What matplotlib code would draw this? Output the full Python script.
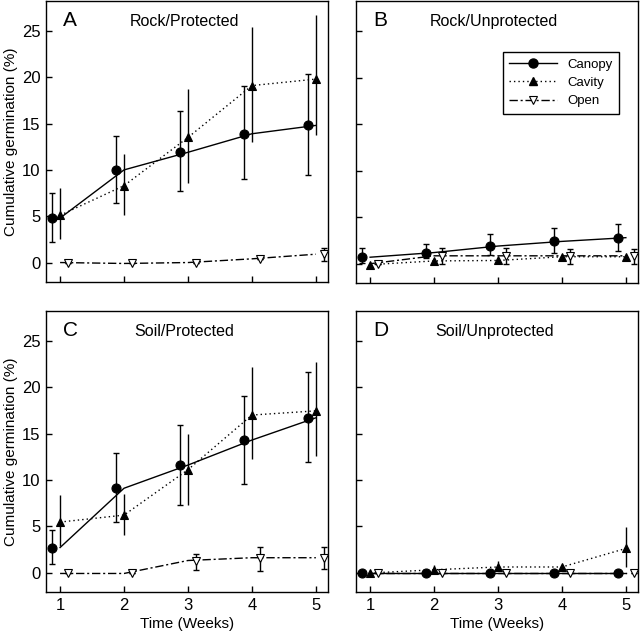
import numpy as np
import matplotlib
matplotlib.use("Agg")
import matplotlib.pyplot as plt

plt.rcParams['font.family'] = ['Liberation Sans', 'DejaVu Sans']

weeks = np.array([1, 2, 3, 4, 5])

# panel A: Rock/Protected
canopy_A = [4.8, 10.0, 11.9, 13.9, 14.8]
canopy_A_lo = [2.2, 6.4, 7.7, 9.0, 9.4]
canopy_A_hi = [7.5, 13.7, 16.4, 19.1, 20.3]
cavity_A = [5.1, 8.3, 13.5, 19.1, 19.8]
cavity_A_lo = [2.5, 5.1, 8.6, 13.0, 13.8]
cavity_A_hi = [8.0, 11.7, 18.7, 25.4, 26.7]
open_A = [0.0, -0.1, 0.0, 0.4, 0.9]
open_A_lo = [0.0, -0.1, 0.0, 0.4, 0.2]
open_A_hi = [0.0, -0.1, 0.0, 0.4, 1.6]

# panel B: Rock/Unprotected
canopy_B = [0.7, 1.2, 1.9, 2.4, 2.8]
canopy_B_lo = [0.1, 0.6, 0.9, 1.1, 1.4]
canopy_B_hi = [1.65, 2.1, 3.15, 3.8, 4.25]
cavity_B = [-0.1, 0.3, 0.35, 0.75, 0.75]
cavity_B_lo = [-0.1, 0.3, 0.35, 0.75, 0.75]
cavity_B_hi = [-0.1, 0.3, 0.35, 0.75, 0.75]
open_B = [0.0, 0.85, 0.85, 0.85, 0.85]
open_B_lo = [0.0, 0.0, 0.0, 0.0, 0.0]
open_B_hi = [0.0, 1.65, 1.65, 1.6, 1.6]

# panel C: Soil/Protected
canopy_C = [2.7, 9.1, 11.6, 14.3, 16.7]
canopy_C_lo = [0.95, 5.45, 7.3, 9.6, 11.9]
canopy_C_hi = [4.6, 12.95, 15.9, 19.05, 21.65]
cavity_C = [5.45, 6.2, 11.1, 17.0, 17.45]
cavity_C_lo = [2.9, 4.1, 7.3, 12.3, 12.6]
cavity_C_hi = [8.35, 8.5, 15.0, 22.2, 22.7]
open_C = [-0.1, -0.1, 1.3, 1.6, 1.6]
open_C_lo = [-0.1, -0.1, 0.25, 0.2, 0.4]
open_C_hi = [-0.1, -0.1, 2.0, 2.8, 2.8]

# panel D: Soil/Unprotected
canopy_D = [0.0, 0.0, 0.0, 0.0, 0.0]
canopy_D_lo = [0.0, 0.0, 0.0, 0.0, 0.0]
canopy_D_hi = [0.0, 0.0, 0.0, 0.0, 0.0]
cavity_D = [-0.05, 0.3, 0.6, 0.6, 2.6]
cavity_D_lo = [-0.05, 0.3, 0.6, 0.6, 0.55]
cavity_D_hi = [-0.05, 0.8, 1.2, 0.6, 4.9]
open_D = [0.0, 0.0, 0.0, 0.0, 0.0]
open_D_lo = [0.0, 0.0, 0.0, 0.0, 0.0]
open_D_hi = [0.0, 0.0, 0.0, 0.0, 0.0]

panels = [
    ("A", "Rock/Protected", [canopy_A, canopy_A_lo, canopy_A_hi],
     [cavity_A, cavity_A_lo, cavity_A_hi], [open_A, open_A_lo, open_A_hi]),
    ("B", "Rock/Unprotected", [canopy_B, canopy_B_lo, canopy_B_hi],
     [cavity_B, cavity_B_lo, cavity_B_hi], [open_B, open_B_lo, open_B_hi]),
    ("C", "Soil/Protected", [canopy_C, canopy_C_lo, canopy_C_hi],
     [cavity_C, cavity_C_lo, cavity_C_hi], [open_C, open_C_lo, open_C_hi]),
    ("D", "Soil/Unprotected", [canopy_D, canopy_D_lo, canopy_D_hi],
     [cavity_D, cavity_D_lo, cavity_D_hi], [open_D, open_D_lo, open_D_hi]),
]

# axes boxes in figure fractions (left, bottom, width, height)
boxes = [
    [0.0719, 0.558, 0.4406, 0.440],
    [0.5563, 0.556, 0.4406, 0.442],
    [0.0719, 0.0721, 0.4406, 0.440],
    [0.5563, 0.0721, 0.4406, 0.440],
]

offsets = {"canopy": -0.13, "cavity": 0.0, "open": 0.12}
open_dash = (0, (6, 2, 1.5, 2))

fig = plt.figure(figsize=(6.4, 6.38), dpi=100)

for i, (letter, title, can, cav, opn) in enumerate(panels):
    ax = fig.add_axes(boxes[i])

    # connecting lines drawn at the weekly positions
    ax.plot(weeks, can[0], color='black', lw=1.0, ls='-', zorder=2)
    ax.plot(weeks, cav[0], color='black', lw=1.0, ls=(0, (1, 2.2)), zorder=2)
    ax.plot(weeks, opn[0], color='black', lw=1.0, ls=open_dash, zorder=2)

    # markers and error bars, offset so they don't overlap
    for key, vals, cap, mk, fc in [("canopy", can, 2.5, 'o', 'black'),
                                   ("cavity", cav, 0, '^', 'black'),
                                   ("open", opn, 2.5, 'v', 'white')]:
        m = np.array(vals[0])
        lo = m - np.array(vals[1])
        hi = np.array(vals[2]) - m
        x = weeks + offsets[key]
        ax.errorbar(x, m, yerr=[lo, hi], fmt='none', ecolor='black',
                    elinewidth=1.0, capsize=cap, capthick=1.0, zorder=3)
        ax.plot(x, m, ls='none', marker=mk, ms=6.5 if mk == 'o' else 6,
                mfc=fc, mec='black', mew=0.8, zorder=4)

    ax.set_xlim(0.78, 5.19)
    ax.set_ylim(-2.1, 28.2)
    ax.set_xticks(weeks)
    ax.set_yticks([0, 5, 10, 15, 20, 25])
    ax.tick_params(direction='in', length=4, width=1, labelsize=12, pad=4)
    for sp in ax.spines.values():
        sp.set_linewidth(1.0)

    ax.text(0.06, 0.965, letter, transform=ax.transAxes, fontsize=15,
            ha='left', va='top')
    ax.text(0.49, 0.955, title, transform=ax.transAxes, fontsize=11.5,
            ha='center', va='top')

    if i in (0, 2):
        ax.set_ylabel("Cumulative germination (%)", fontsize=11, labelpad=3)
    else:
        ax.tick_params(labelleft=False)
    if i in (2, 3):
        ax.set_xlabel("Time (Weeks)", fontsize=11, labelpad=3)
    else:
        ax.tick_params(labelbottom=False)

    if i == 1:
        h1, = ax.plot([], [], color='black', lw=1.0, marker='o', ms=6.5,
                      mfc='black', mec='black')
        h2, = ax.plot([], [], color='black', lw=1.0, ls=(0, (1, 2.2)),
                      marker='^', ms=6, mfc='black', mec='black')
        h3, = ax.plot([], [], color='black', lw=1.0, ls=open_dash,
                      marker='v', ms=6, mfc='white', mec='black', mew=0.8)
        leg = ax.legend([h1, h2, h3], ["Canopy", "Cavity", "Open"],
                        loc='upper right', bbox_to_anchor=(0.933, 0.82),
                        borderaxespad=0, fontsize=9.5, handlelength=3.6,
                        frameon=True, fancybox=False, edgecolor='black',
                        framealpha=1, labelspacing=0.45, borderpad=0.5)
        leg.get_frame().set_linewidth(1.0)

fig.savefig("out.png", dpi=100)
